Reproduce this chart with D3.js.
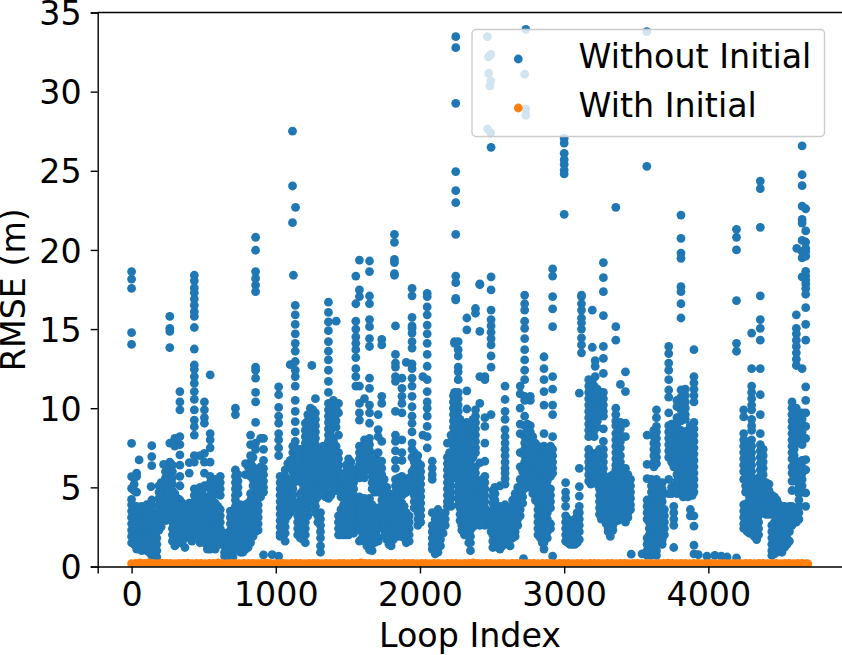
<!DOCTYPE html>
<html>
<head>
<meta charset="utf-8">
<script src="https://cdn.jsdelivr.net/npm/d3@7"></script>
<style>
  body { margin: 0; background: #fff; }
  text { font-family: "DejaVu Sans", sans-serif; fill: #000; }
</style>
</head>
<body>
<svg id="chart" width="842" height="655"></svg>
<script>
// loop index of each column of points, rmse values of that column below
const withoutLoop = [0,35,52,70,105,135,140,175,205,222,235,265,300,335,370,400,435,475,505,545,580,615,645,685,720,755,790,825,860,895,915,975,
  1020,1030,1065,1100,1116,1122,1135,1137,1170,1205,1240,1250,1275,1310,1345,1365,1400,1419,1435,1470,1505,1540,1555,1580,1615,1650,1685,1710,1735,1770,1800,1823,1830,1875,1905,1945,1960,1985,2020,2050,2085,2125,2160,2190,
  2215,2240,2248,2265,2290,2325,2350,2385,2415,2450,2468,2475,2477,2486,2491,2493,2520,2555,2590,2625,2660,2695,2718,2726,2734,2765,2800,2835,2860,2905,2920,
  3000,3010,3040,3075,3105,3120,3170,3195,3215,3245,3272,3290,3320,3358,3390,3425,3460,3465,3540,3573,3575,3605,3640,3680,3695,3725,3760,3810,3840,3875,3900,3930,3990,
  4045,4090,4130,4195,4245,4270,4300,4335,4360,4400,4440,4475,4510,4545,4580,4610,4613,4650,4675];
const withoutRmse = [
  [18.63,18.16,17.57,14.77,14.03,7.78,5.68,4.94,4.24,3.9,3.5,3.1,2.7,2.3,1.9,1.5],
  [5.9,5.7,4.7,3.8,3.4,3,2.6,2.2,1.8,1.4,1.1],
  [6.73],
  [3.8,3.4,3,2.6,2.2,1.8,1.4,1],
  [3.9,3.5,3.1,2.7,2.3,1.9,1.5,1],
  [5.05],
  [7.63,6.94,6.37,4.2,3.8,3.4,3,2.6,2.2,1.8,1.4,1,0.7],
  [3,2.6,2.2,1.8,1.4,1,0.6],
  [5.3,4.9,4.5,4.1,3.7,3.3,2.9,2.5],
  [6.45],
  [6,5.6,5.2,4.8,4.4,4,3.6,3.2,2.9],
  [15.8,15.05,14.85,13.83,7.8,6.6,6.2,5.8,5.4,5,4.6,4.2,3.8,3.4],
  [8.1,7.6,4.6,4.2,3.8,3.4,3,2.6,2.2,1.8,1.3],
  [11.05,10.4,9.9,8.2,7.7,7.05,6.4,5.7,5.1,4.2,3.8,3.4,3,2.6,2.2,1.8,1.5],
  [3.8,3.4,3,2.6,2.2,1.8,1.2],
  [6.56,5.9,4,3.6,3.2,2.8,2.4,2],
  [18.4,18.05,17.6,17.3,16.9,16.5,16.1,15.8,15.1,13.74,12.73,12.46,12,11.57,11.05,10.56,9.9,9.25,8.83,8.3,7,6.6,4.9,4.5,4.1,3.7,3.3,2.9,2.5],
  [7,5,4.6,4.2,3.8,3.4,3,2.6,2.2,1.8,1.5],
  [10.4,9.9,9.4,9.05,7.15,6.6,5.9,5.1,4.4,4,3.6,3.2,2.8,2.4,2,1.5],
  [12.1,8.4,8,7.5,6.6,5.7,5.3,4.9,4.5,4.4,4,3.6,3.2,2.8,2.4,2,1.6,1.1],
  [5.5,5.1,4.8,4,3.6,3.2,2.8,2.4,2,1.5,1.1],
  [5.7,5.3,4.9,4.5,3.6,3.2,2.8,2.4,1.7,1.4],
  [2.1,1.7,1.3,0.9,0.65],
  [3.5,3.1,2.7,2.3,1.9,1.5,1.1,0.65],
  [10,9.6,6.1,5.7,5.3,4.9,4.5,4.2,3.8,3.4,3,2.6,2.2,1.8,1.2],
  [3.9,3.5,3.1,2.7,2.3,1.9,1.5,0.9],
  [6.5,5.8,3.9,3.5,3.1,2.7,2.3,1.9,1.1],
  [8.3,7.7,7,6.6,6.2,5.7,4.6,4.2,3.8,3.4,3,2.6,2.2,1.5],
  [20.8,19.98,18.63,18.2,17.78,17.36,12.6,12.4,11.9,11,10.4,9.1,7.8,7.4,6.1,5.7,5.3,4.9,4.5,3.8,3.4,3,2.6,2.2],
  [8.1,6.3,5.9,5.5,5.1,4.7,4.4],
  [8.1,7.4,6.7,6.2,5.8,5.4,5,4.7,0.73],
  [0.75],
  [11.35,10.85,10.05,9.5,9.05,8.4,8,7.5,7,0.65],
  [5.7,5.3,4.9,4.5,4.1,3.7,3.3,2.9,2.5,2.1,1.9],
  [6.1,5.7,5.3,4.9,4.5,4.1,3.7,3.3,2.9,2.5,2.1,1.6],
  [12.75,6.7,6.4,5.2,4.8,4.4,4,3.6,3.4],
  [27.5,24.04,21.72],
  [18.4],
  [16.5,15.9,15.3,14.7,14.1,13.6,12.95,12.4,12,11.4,10.5,9.8,9.15,8.5,7.9,7.5,7.1,6.7,6.3,5.9,5.5],
  [22.69],
  [7.4,7,6.6,6.2,5.8,5.5,4.6,4.2,3.8,3.4,3,2.6,2.2,1.8],
  [9.05,8.6,8.2,7.8,7.4,7,6.6,6.2,5.8,4.8,4.4,4,3.6,3.2,2.8,2.4,2,1.5],
  [10,9.6,9.2,8.8,8.4,8,7.6,7.2,6.8,6.4,6,5.6,5.2,4.9,4.6,4.2],
  [12.7],
  [10.6,9.7,9.3,8.9,8.5,8.1,7.7,7.3,6.9,6.5,6.1,5.7,4.6,4.2,3.8,3.4],
  [7.4,7,6.6,6.2,5.8,5.4,5.1,3.4,3,2.6,2.2,1.8,1.3,0.9],
  [7.4,7,6.6,6.2,5.8,5.4,5,4.7,4.4],
  [16.7,16.05,15.45,14.9,14.2,13.6,13.05,12.4,11.7,11,10.3,9.9,9.5,9.1,8.7,8.3,7.9,7.5,7.1,6.7,6.3,5.9,5.5,5.1,4.7,4.3],
  [10.5,10.1,9.7,9.3,8.9,8.1,7.9,7.5,7.1,6.7,6.3,5.9,5.5,5.1,4.9],
  [15.5],
  [10.3,9.7,8.3,7.2,6.8,6.4,6,5.6,5.2,3.2,2.8,2.4,2],
  [5.5,5.1,4.7,4.3,3.9,3.5,3.1,2.7,2.3,2],
  [6.8,6.4,6,5.6,5.2,4.8,4.4,4,3.6,3.2,2.8,2.4,2],
  [6.1,5.7,5.3,4.9,4.5,4.1,3.7,3.3,2.9,2.5,2.1],
  [18.35,16.6,15.5,15,14.5,14.1,13.7,13.2,12.5,12,11.4],
  [19.36,17.47,17.05,11.4,10.3,9.7,9.25,7.6,7.2,6.8,6.4,6,5.6,4.4,4,3.6,3.2,2.8,2.4,1.6],
  [10.6,8,7.6,7.2,6.8,6.4,6,5.6,4.3,3.9,3.5,3.1,2.7,2.3,1.6],
  [19.3,18.63,17.09,16.6,15.6,15.15,14.4,13.9,11.9,11.25,10.2,9.7,9.05,8.1,7.7,7.3,6.9,6.5,4.3,3.9,3.5,3.1,2.7,2.3,1.9,1.5,1.05],
  [7.1,6.7,6.3,5.9,5.5,5.1,4.7,3.5,3.1,2.7,2.3,1.9,1.5],
  [9.6,8.65,8.2,7.2,6.7,6.3,5.9,5.5,5.1,4.7,3.7,3.3,2.9,2.5,1.6],
  [14.35,14,10.75,10.3,7.9,6.65,6.2,5.8,5.4,5,4.6,4.2,3.8,3.4,3,2.6],
  [5,4.6,4.2,3.8,3.4,3,2.6,2.2,1.7],
  [4.4,4,3.6,3.2,2.8,2.4,2,1.6,1.3],
  [20.98,20.48,19.4,19.2,18.5,18.4],
  [15.2,13.4,12.85,12.6,12,11.7,9.8,8.3,7.9,7.3,6.7,6.2,5.5,5.1,4.7,4.2,3.8,3.4,3,2.6,2.2,1.9],
  [11.9,11.25,10.75,10.3,9.7,8,7.2,6.7,5.7,5.3,4.9,4.5,4,3.6,3.2,2.8,2.4,1.9],
  [12.9,5.5,5.1,4.7,3.4,3,2.6,2.2,1.8,1.5],
  [17.57,17.1,15.74,15.2,15.05,14.75,14.2,13.8,12.8,12.5,11.9,11.4,10.75,10.1,9.5,9.05,8.5,7.8,7.4,6.9,6,5.7],
  [7.2,6.6,6.2,5.7,5.3,4.9,4.5,4.1,3.7],
  [7,6.6,6.2,5.8,5.4,5,4.6,4.2,3.8,3.4,3,2.6],
  [12,8.3],
  [17.26,17.05,16.4,15.9,15.25,14.7,14.1,13.4,12.65,11.8,11.05,10.4,10,9.5,8.85,8.2,7.5],
  [6.65,6.2,5.8,5.5,3.4,2.6,2.2,1.8,1.4,1.1],
  [3.6,3.2,2.8,2.4,2,1.6,1.2,0.9],
  [3,2.6,2.1],
  [7.8,6.9,6.5,6.1,5.7,5.3,4.9,4.5,4.1,3.8],
  [8.3,6.7,6.3,5.9,5.5,5.1,4.7,4.3,3.8],
  [14.2,14.1,11,10.6,10.2,9.8,9.4,9,8.6,8.2],
  [33.47,32.78,29.26,24.95,23.74,22.99,20.98,18.35,17.93,16.94,16.84],
  [14.2,13.7,13.3,12.6,12.3,11.8,11,10.6,10.2,9.8,9.4,9,8.7,7.9,7.5,7.1,6.7,6.3,5.9,5.5,5.1,4.7,4.3,3.9],
  [7.4,7,6.6,6.2,5.8,5.4,5,4.6,4.2,3.8,3.4,3,2.6,2.3],
  [15.7,14.95,11.1,9.95,9.1,8.7,8.3,7.9,7.5,7.1,6.7,6.3,5.9,5.5,5.1,4.7,4.3,3.9,3.5,3.1,2.7,2.3,2.1],
  [8.9,8.5,8.1,7.6,6.7,6.3,5.9,5.5,5.1,4.7,4.3,3.9,3.5,3.1,2.7,2.3,1.9,1.5,1],
  [16.3,16,9.9,9.5,9.1,8.7,8.3,7.9,7.5,7.2,6.3,5.9,5.5,5.1,4.7,4.3,3.9,3.5,3.1,2.7],
  [17.85,17.8,14.85,12,10.3,6.55,5.3,4.9,4.5,4.1,3.7,3.3,2.9,2.6],
  [12,11.8,9.4,8.85,7.8,6.65,5.7,5.3,4.9,4.5,4.1,3.7,3.3,2.9,2.6],
  [33.47,27.64],
  [32.2],
  [31.15],
  [30.36],
  [32.36,30.67,27.4],
  [26.48,18.3,17.47,16.2,15.6,15.2,14.8,14.4,14,13.3,12.6,9.6,3.4,3,2.6,2.2],
  [5,4.6,4.2,3.8,3.4,3,2.6,2.2,1.7,1.3],
  [5.1,3.8,3.4,3,2.6,2.2,1.8,1.4,1.1],
  [11.4,10.55,9.8,9.3,8.65,8.2,7.8,7.4,7,6.6,6.2,5.9,5.55,5.2,3.9,3.5,3.1,2.7,2.3,1.9,1.5],
  [3.7,3.3,2.9,2.5,2.1,1.7,1.3],
  [4.6,4.2,3.8,3.4,3,2.6,2.2,1.9],
  [11.4,10.9,10,9,8.4,7.2,6.3,5.5,5,4.6,4.4,4,3.6,3.2],
  [0.5],
  [31.1,17.15,16.6,16.2,15.5,15.05,14.4,13.7,13.05,12.4,11.8,10.75,10.5,9.5,8.9,8.2,7.8,7.4,7,6.6,6.2,5.8,5.5],
  [33.94,28.9,28.5],
  [10.75,10.5,8.9,8.5,8.1,7.7,7.3,6.9,6.5,6.1,5.7,5.4],
  [7.8,7.4,7,6.6,6.2,5.8,5.4,5,4.6,4.2],
  [7.4,7,6.6,6.2,5.8,5.4,5,4.6,4.2,3.8,3.4,3,2.6,2.1,1.8],
  [13.25,12.5,11.8,11.05,10.2,8.4,7.6,7.2,6.8,6.4,6,5.6,5.2,4.8,4.4,4,3.6,3.2,2.8,2.4,2,1.5,1.1],
  [7.6,7.2,6.8,6.4,6,5.7,4.9,4.5,4.1,3.7,2.7,2.4],
  [18.8,18.35,17.05,16.27,15.15,12,11.2,10.2,9.6,8.2,7.4,7,6.6,6.2,5.9,0.65],
  [27.05,26.75,26.1,25.7,25.4,25.05,24.8,22.25],
  [5.3,4.7,4.3,3.8,3.2,2.8,2.4,2,1.6],
  [2.5,2.1,1.7,1.4],
  [3,2.6,2.2,1.8,1.4],
  [10.95,6.2,5.05,4.45,3.8,3.4,3,2.6,2.2,1.7],
  [17.15,17.05,16.6,16.2,15.7,15.4,15,14.45,14,13.5],
  [11.8,11.4,11,10.6,10.2,9.8,9.4,9,8.6,8.2,7.4,7,6.6,6.2,5.8,5.4],
  [16.2,13.85,11.6,11.2,10.8,10.4,10,9.6,9.2,8.8,8.4],
  [13,12.65,12],
  [7.4,7,6.6,6.2,5.8,5.5,4.9,4.5,4.1,3.7,3.3],
  [19.2,18.25,17.36,15.85,13.9,13.15,12.2,11,10.6,10.2,9.8,9.5,8.7,7.9,7.4,7,6.6,6.2,5.8,5.4],
  [5.5,5.1,4.7,4.3,3.9,3.5,3.1,2.7],
  [5.7,5.3,4.9,4.5,4.1,3.7,3.3,2.9,2.5,2.1,1.9],
  [22.69,15.15,14.3,10,9.6,9.2,8.9,8.4,8,7.6,7.2,6.8,6.4,6.1,5.7,5.3,4.9,4.5,4.1,3.7,3.3],
  [11.5,9.1,8.7,8.3,7.9,7.5,7,6.6,6.1,5.7,5.3,4.9,4.5,4.1,3.7,3.4],
  [12.3,11.05,9.05,8.2,6.2,5.8,5.4,5,4.6,4.2,3.8,3.4,3,2.8],
  [5.5,5.1,4.7,4.3,3.9,3.6],
  [0.78],
  [0.8],
  [33.79,25.28],
  [8.3,6.45,5.55,4.2,3.8,3.4,3,1.8,1.4,1,0.7],
  [5.5,5.1,4.7,4.3,3.9,3.5,3.1,2.7,2.3,1.9,1.5,1.1,0.7],
  [9.9,9.4,8.85,8.5,8.1,7.7,7.3,6.9,6.5,5.5,5.1,4.7,4.3,3.9,3.5,3.1,2.7,2.3,1.9,1.5,1,0.7],
  [5.3,4.9,4.5,4.1,3.7,3.3,2.9,1.7,1.4],
  [3.6,3.2,2.8,2.4,2],
  [13.9,13.45,12.85,12.4,11.8,11.15,10.7,9.7,8.9,8.5,8.1,7.7,7.3,6.9,5.5,4.6],
  [9,8.6,8.2,7.8,7.4,7,6.6,6.3,5.1,4.7,3.8,3.4,3,2.6,1.2],
  [22.2,20.73,19.8,19.47,17.68,17.36,16.6,15.7,11.15,10.7,10.3,9.9,9.5,9.2,8.6,8.2,7.8,7.4,7,6.6,6.2,5.8,5.4,5,4.6],
  [11.2,10.8,10.4,10,9.6,9.3,8.2,7.8,7.4,7,6.6,6.2,5.8,5.4,5,4.5],
  [8.9,8.5,8.1,7.7,7.3,6.9,6.5,6.1,5.7,5.3,4.9,4.5,3.6,3.2],
  [13.7,12,11.6,11.2,10.8,10.4,9.1,8.7,8.3,7.9,7.5,7.1,6.7,6.3,5.9,5.5,5.1,4.7,3.2,2.55,1.35,0.8],
  [0.75],
  [0.65],
  [0.7],
  [0.65],
  [0.6],
  [21.3,20.8,20,16.8,14.1,13.6,0.55],
  [9.9,9.45,8.4,8,7.6,7.2,6.8,6.4,6,5.5,3.9,3.5,3.1,2.7,2.4],
  [7.8,7.4,7,6.6,6.2,5.8,5.4,5.1,4,3.6,3.2,2.8,2.4,2.2],
  [14.75,12.5,11.4,11,10.6,10.2,9.9,9.3,8.9,8.6,8,7.6,7.2,6.8,6.4,6,5.6,5.1,4.4,4,3.6,3.2,2.8,2.4],
  [5.5,5.1,4.4,4,3.6,3.2,2.8,2.4,2,1.7],
  [24.35,23.87,21.43,17.1,15.6,15.05,14.3,12.5,10.85,9.6,8.4,7.7,7.3,6.9,6.5,6.1,5.7,5.5,5,4.6,4.2,3.8,3.4],
  [5.3,4.9,4.5,4.1,3.7,3.3],
  [4.5,4.1,3.7,3.3,2.6,2.2,1.8,1.4,1,0.7],
  [4.2,3.8,3.4,2.8,2.4,2,1.6,1.2,0.9],
  [3.6,3.2,2.8,2.4,2,1.6,1.2,0.9],
  [3.4,3,2.6,2.2,1.8,1.4],
  [10.4,10,9.6,9.2,8.8,8.4,8,7.6,7.2,6.8,6.3,5.9,5.4,4.8,3.8,3.4,3,2.6],
  [15.9,15.05,14.7,14.3,13.9,13.5,13.1,12.7,10,9.6,9.2,8.8,8.4,8,3.6,3.2,2.8],
  [20.1],
  [26.57,24.75,24.06,22.77,21.93,21.7,20.6,19.9,19.5,18.3,12.5,9.7,9.3,8.9,8.5,8.1,7.7,6.7,6.3,5.9,5.5,5.1,4.7],
  [22.6,21.2,20.5,20.1,19.9,19.6,18.65,18.35,18.1,17.85,17.56,17.2,16.35,15.3,14.3,11.35,10.5,9.7,8.85,8.1,6.75,6.1,4.65,3.8]
];

// more columns of the same series, where the cloud of points is thick
const denseLoop = [18,88,122,158,190,250,283,318,352,385,418,455,490,525,562,598,665,703,738,772,808,842,878,
  1048,1083,1118,1152,1188,1222,1258,1292,1328,1382,1418,1452,1488,1522,1597,1632,1668,1700,1752,1785,1815,1852,1890,1925,2005,2105,2142,2175,
  2205,2232,2278,2308,2338,2368,2400,2432,2505,2538,2572,2608,2642,2678,2712,2745,2782,2818,2848,2883,
  3025,3058,3090,3185,3208,3230,3258,3305,3338,3372,3408,3442,3590,3622,3660,3745,3782,3825,3858,3888,
  4258,4285,4318,4348,4380,4420,4458,4492,4528,4562,4595,4628];
const denseRmse = [
  [5.6,5.2,4.8,3.8,3.4,3,2.6,2.2,1.8,1.4],
  [3.6,3.2,2.8,2.4,2,1.6,1.2],
  [3.7,3.3,2.9,2.5,2.1,1.7,1.3,0.9],
  [3.2,2.8,2.4,2,1.6,1.2,0.8,0.5],
  [5.1,4.7,4.3,3.9,3.5,3.1,2.7,2.3],
  [5.9,5.5,5.1,4.7,4.3,3.9,3.5,3.1],
  [6.4,6,5.6,5.2,4.8,4.4,4,3.6,3.2,2.8,2.4,2,1.6],
  [4.3,3.9,3.5,3.1,2.7,2.3,1.9,1.5],
  [4,3.6,3.2,2.8,2.4,2,1.6],
  [3.8,3.4,3,2.6,2.2],
  [4,3.6,3.2,2.8,2.4,2,1.6],
  [4.6,4.2,3.8,3.4,3,2.6,2.2,1.8],
  [4.8,4.4,4,3.6,3.2,2.8,2.4,2],
  [4.2,3.8,3.4,3,2.6,2.2,1.8,1.4,1.1],
  [5.2,4.8,4.4,3.9,3.5,3.1,2.7,2.3,1.9,1.3],
  [3.8,3.4,3,2.6,2.2,1.8,1.4],
  [1.9,1.5,1.1,0.8],
  [3.3,2.9,2.5,2.1,1.7,1.3,0.9,0.6],
  [5.8,5.4,5,4.6,3.8,3.4,3,2.6,2.2,1.8,1.4,1.1],
  [3.7,3.3,2.9,2.5,2.1,1.7,1.3,0.9],
  [6.3,4,3.6,3.2,2.8,2.4,2,1.6,1.2],
  [6.9,6.3,5.9,5.5,5.1,4.7,4.3,3.9,3.5,3.1,2.7,2.3,1.9],
  [5.9,5.5,5.1,4.7,4.3,3.9,3.5,3.1,2.7,2.3],
  [5.5,5.1,4.7,4.3,3.9,3.5,3.1,2.7,2.3],
  [6.5,5.4,5,4.6,4.2,3.8,3.4,3.2],
  [7.6,7.2,6.8,6.4,6,5.6,5.2,4.9,4.5,4.1,3.7],
  [7.4,7,6.6,6.2,5.8,5.4,4,3.6,3.2,2.8,2.4,2],
  [6,5.6,5.2,4.8,4.4,4,3.6,3.2,2.8,2.4,2,1.7],
  [9.6,9.2,8.8,8.4,8,7.6,7.2,6.8,6.4,6,5.6,5.2,4.4,4,3.6,3.2],
  [9.9,9.5,9.1,8.7,8.3,7.9,7.5,7.1,6.7,6.3,5.9,5.5,5.1,4.8,4.4,4],
  [7.2,6.8,6.4,6,5.6,5.2,4.8,4.4,3.2,2.8],
  [7.6,7.2,6.8,6.4,6,5.6,5.2,4.8],
  [10.3,9.8,9.4,9,8.6,8.2,7.7,7.3,6.9,6.5,6.1,5.7,5.3,4.9,4.5],
  [10,9.6,9.2,8.8,7.6,7.2,6.8,6.4,6,5.6,5.2,4.8],
  [5.6,5.2,4.8,4.4,3.6,3.2,2.8,2.4,2],
  [6.4,6,5.6,5.2,4.8,4.4,4,3.6,3.2,2.8,2.4,2],
  [6.6,6.2,5.8,5.4,5,4.6,4.2,3.8,3.4,3,2.6,2.2],
  [7.4,7,6.6,6.2,5.8,4.2,3.8,3.4,3,2.6,2.2,1.8],
  [7.7,7.3,6.9,6.5,6.1,4.1,3.7,3.3,2.9,2.5,2.1,1.7,1.3],
  [6.9,6.5,6.1,5.7,5.3,4.9,3.9,3.5,3.1,2.7,2.3,1.9,1.5,1],
  [6,5.6,5.2,3.5,3.1,2.7,2.3,1.9],
  [5.5,5.1,4.7,4.3,3.9,3.5,3.1,2.7,2.3,1.9],
  [4.6,4.2,3.8,3.4,3,2.6,2.2,1.8,1.4],
  [4.1,3.7,3.3,2.9,2.5,2.1,1.7],
  [5.6,5.2,4.8,4.4,3.9,3.5,3.1,2.7,2.3,1.9],
  [5.4,5,4.6,3.8,3.4,3,2.6,2.2,1.8],
  [5.6,5.2,4.8,3.2,2.8,2.4,2,1.6],
  [6.4,6,5.6,5.2,4.8,4.4,4,3.6,3.2,2.8],
  [3,2.6,2.2,1.8,1.4,1.1,0.8],
  [3.3,2.9,2.5,2.1,1.7,1.3],
  [3.4,3,2.6],
  [7.2,6.8,6.4,6,5.6,5.2,4.8,4.4,4],
  [10.8,10.4,10,9.6,9.2,8.8,8.4,8,7.6,7.2,6.8,6.4,6,5.6],
  [9.3,8.9,8.5,8.1,7.7,7.3,6.9,6.5,6.1,5.7,5.3,4.9,4.5,4.1,3.7,3.3,2.9],
  [7.2,6.8,6.4,6,5.6,5.2,4.8,4.4,4,3.6,3.2,2.8,2.4,2],
  [8.7,8.3,7.9,7.5,7.1,6.7,6.3,5.9,5.5,5.1,4.7,4.3,3.9,3.5,3.1,2.7,2.3,1.9,1.5],
  [9.3,8.9,8.5,8.1,7.7,7.3,6.9,6.1,5.7,5.3,4.9,4.5,4.1,3.7,3.3,2.9,2.5],
  [5.1,4.7,4.3,3.9,3.5,3.1,2.7],
  [5.5,5.1,4.7,4.3,3.9,3.5,3.1,2.7],
  [4.8,4.4,4,3.6,3.2,2.8,2.4,2,1.6,1.2],
  [3.6,3.2,2.8,2.4,2,1.6,1.2],
  [3.6,3.2,2.8,2.4,2,1.6,1.3],
  [3.5,3.1,2.7,2.3,1.9,1.5],
  [4.2,3.8,3.4,3,2.6,2.2,1.8],
  [5,4.6,4.2,3.8,3.4,3,2.6],
  [6,5.6,5.2,4.8,4.4,4],
  [9,8.6,8.2,7.8,7.4,7,6.6,6.2,5.8,5.4,5],
  [8.2,7.8,7.4,7,6.6,6.2,5.8,5.4,5,4.6],
  [7.6,7.2,6.8,6.4,6,5.6,5.2,4.8,4.4,4,3.6,3.2,2.8,2.4,2],
  [7.2,6.8,6.4,6,5.6,5.2,4.8,4.4,4,3.6,3.2,2.8,2.4,1.9,1.5],
  [7.4,7,6.6,6.2,5.8,5.4,5,4.6,4.2,3.8,3.4,3,2.6,2.2,1.8],
  [3,2.6,2.2,1.8,1.5],
  [2.9,2.5,2.1,1.7,1.4],
  [3.4,3,2.6,2.2,1.8,1.5],
  [7.2,6.8,6.4,6,5.6,5.2],
  [11.4,11,10.6,10.2,9.8,9.4,9,8.6,8.2,7,6.6,6.2,5.8,5.4],
  [11.2,10.8,10.4,10,9.6,9.2,8.8,7.2,6.8,6.4,6,5.6,5.2],
  [11,10.6,10.2,9.8,5.4,5,4.6,4.2,3.8,3.4,3],
  [5.6,5.2,4.8,4.4,4,3.6,3.2,2.8,2.4,2.2],
  [5.8,5.4,5,4.6,4.2,3.8,3.4,3,2.6,2.3],
  [9,8.6,8.2,7.8,7.4,7,6.6,6,5.6,5.2,4.8,4.4,4,3.6,3.2,2.9],
  [6.2,5.8,5.4,5,4.6,4.2,3.8,3.4,3],
  [5.8,5.4,5,4.6,4.2,3.8,3.4,3.1],
  [3.6,3.2,2.8,2.4,2,1.6,1.2,0.8],
  [8.6,8.2,7.8,7.4,7,6.6,6.3,5.3,4.9,4.5,4.1,3.7,3.3,2.9,2.5,2.1,1.7,1.3,0.9],
  [5.1,4.7,4.3,3.9,3.5,3.1,2.7,2.3,1.9,1.5],
  [9,8.6,8.2,7.8,7.4,7,6.6,5,4.6],
  [10.5,10.1,9.4,9,8.6,8.2,7.8,7.4,7,6.6,6.2,5.8,5.4,5,4.6],
  [11,10.6,10.2,9.8,9.4,8.4,8,7.6,7.2,6.8,6.4,6,5.6,5.2,4.8,4.4],
  [8.6,8.2,7.8,7.4,7,6.6,6.2,5.8,5.4,5,4.6,4.4],
  [8.9,8.5,8.1,7.7,7.3,6.9,6.5,6.1,5.7,5.3,4.9,4.5],
  [7.9,7.5,7.1,6.7,6.3,5.9,5.5,5.1,4.7,3.9,3.5,3.1,2.7,2.4],
  [7.6,7.2,6.8,6.4,6,5.6,5.2,4.8,4.4,4,3.6,3.2,2.8,2.4,2.1],
  [5.4,5,4.6,4.2,3.8,3.4,3,2.6,2.2,1.9],
  [5.6,5.2,4.8,4.4,4,3.6,3.2,2.8,2.4,2],
  [7.4,7,6.6,6.2,5.8,5.4,5,4.6,4.2,3.8,3.4],
  [5.2,4.8,4.4,4,3.6,3.3],
  [4.4,4,3.6,2.8,2.4,2,1.6,1.2,0.8],
  [3.9,3.5,3.1,2.7,2.3,1.9,1.5,1.1],
  [3.8,3.4,3,2.6,2.2,1.8,1.4,1.2],
  [3.8,3.4,3,2.6,2.2,1.6],
  [9.8,9.4,9,8.6,8.2,7.8,7.4,7,6.6,6.2,5.8,5.4,3.6,3.2,2.8],
  [9.4,9,8.6,8.2,7.8,6.6,6.2,5.8,5.4,5,4.6,4.2,3.8,3.4,3]
];

const withLoop = [0,30,60,90,120,150,180,210,240,270,300,330,360,390,420,450,480,510,540,570,600,630,660,690,720,750,780,810,840,870,900,930,960,990,
  1020,1050,1080,1110,1140,1170,1200,1230,1260,1290,1320,1350,1380,1410,1440,1470,1500,1530,1560,1590,1620,1650,1680,1710,1740,1770,1800,1830,1860,1890,1920,1950,1980,
  2010,2040,2070,2100,2130,2160,2190,2220,2250,2280,2310,2340,2370,2400,2430,2460,2490,2520,2550,2580,2610,2640,2670,2700,2730,2760,2790,2820,2850,2880,2910,2940,2970,
  3000,3030,3060,3090,3120,3150,3180,3210,3240,3270,3300,3330,3360,3390,3420,3450,3480,3510,3540,3570,3600,3630,3660,3690,3720,3750,3780,3810,3840,3870,3900,3930,3960,3990,
  4020,4050,4080,4110,4140,4170,4200,4230,4260,4290,4320,4350,4380,4410,4440,4470,4500,4530,4560,4590,4620,4650,4680,4690];
const withRmse = [0.18,0.2,0.22,0.19,0.23,0.2,0.18,0.21,0.19,0.2,0.18,0.2,0.19,0.21,0.18,0.2,0.19,0.18,0.2,0.19,0.22,0.2,0.18,0.2,0.19,0.18,0.2,0.19,0.2,0.18,0.19,0.21,0.19,0.18,
  0.19,0.2,0.18,0.2,0.19,0.2,0.18,0.19,0.2,0.19,0.18,0.2,0.19,0.18,0.2,0.19,0.18,0.2,0.19,0.23,0.2,0.19,0.18,0.2,0.19,0.18,0.2,0.19,0.18,0.2,0.19,0.2,0.18,
  0.19,0.2,0.18,0.2,0.19,0.18,0.2,0.19,0.2,0.18,0.19,0.2,0.22,0.19,0.18,0.2,0.19,0.18,0.2,0.19,0.18,0.2,0.19,0.2,0.18,0.19,0.2,0.18,0.19,0.2,0.19,0.18,0.2,
  0.19,0.2,0.18,0.19,0.2,0.18,0.19,0.2,0.19,0.18,0.2,0.19,0.18,0.2,0.19,0.18,0.2,0.19,0.18,0.2,0.19,0.18,0.2,0.19,0.21,0.19,0.18,0.2,0.19,0.18,0.2,0.19,0.18,0.2,
  0.19,0.18,0.2,0.19,0.18,0.2,0.19,0.18,0.2,0.19,0.18,0.2,0.19,0.18,0.2,0.19,0.18,0.2,0.19,0.18,0.2,0.19,0.18,0.17];

const xTicks = [0,1000,2000,3000,4000];
const yTicks = [0,5,10,15,20,25,30,35];
const seriesNames = ["Without Initial","With Initial"];
const seriesColors = ["#1f77b4","#ff7f0e"];

const margin = { top: 12.5, bottom: 566.5, left: 97.7, right: 843.2 };
const fontSize = 33.3;
const radius = 4.4;

const svg = d3.select("#chart");

const x = d3.scaleLinear().domain([-235,4935]).range([margin.left, margin.right]);
const y = d3.scaleLinear().domain([0,35]).range([margin.bottom, margin.top]);

svg.append("clipPath").attr("id","plot-clip")
  .append("rect")
  .attr("x", margin.left).attr("y", margin.top)
  .attr("width", margin.right - margin.left)
  .attr("height", margin.bottom - margin.top);

const plot = svg.append("g").attr("clip-path","url(#plot-clip)");

// flatten the columns to [loop, rmse] pairs
const toPairs = (loops, rmses) => d3.merge(loops.map((l,i) => rmses[i].map(r => [l,r])));
const withoutPoints = toPairs(withoutLoop, withoutRmse).concat(toPairs(denseLoop, denseRmse));
const withPoints = withLoop.map((l,i) => [l, withRmse[i]]);

plot.selectAll(".without")
  .data(withoutPoints)
  .enter().append("circle")
  .attr("class","without")
  .attr("cx", d => x(d[0]))
  .attr("cy", d => y(d[1]))
  .attr("r", radius)
  .style("fill", seriesColors[0]);

plot.selectAll(".with")
  .data(withPoints)
  .enter().append("circle")
  .attr("class","with")
  .attr("cx", d => x(d[0]))
  .attr("cy", d => y(d[1]))
  .attr("r", radius)
  .style("fill", seriesColors[1]);

// axes
const xAxis = svg.append("g")
  .attr("transform",`translate(0,${margin.bottom})`)
  .call(d3.axisBottom(x).tickValues(xTicks).tickFormat(d3.format("d")).tickSize(7).tickPadding(9));
const yAxis = svg.append("g")
  .attr("transform",`translate(${margin.left},0)`)
  .call(d3.axisLeft(y).tickValues(yTicks).tickFormat(d3.format("d")).tickSize(7).tickPadding(9));

svg.selectAll(".domain, .tick line").style("stroke","#000").style("stroke-width",1.4);
svg.selectAll(".tick text").style("font-size",fontSize+"px").style("font-family",'"DejaVu Sans"');
yAxis.selectAll(".tick text").attr("dy","0.365em");

// top spine, the right one falls outside the page
svg.append("line")
  .attr("x1",margin.left).attr("x2",margin.right)
  .attr("y1",margin.top).attr("y2",margin.top)
  .style("stroke","#000").style("stroke-width",1.4);

svg.append("text")
  .attr("x",470).attr("y",646.7)
  .attr("text-anchor","middle")
  .style("font-size",fontSize+"px")
  .text("Loop Index");

svg.append("text")
  .attr("transform","translate(25.3,289.7) rotate(-90)")
  .attr("text-anchor","middle")
  .style("font-size",fontSize+"px")
  .text("RMSE (m)");

// legend
const legend = svg.append("g");
legend.append("rect")
  .attr("x",472).attr("y",29.5)
  .attr("width",352.5).attr("height",107)
  .attr("rx",4)
  .style("fill","#fff").style("fill-opacity",0.8)
  .style("stroke","#ccc").style("stroke-width",1.4);

seriesNames.forEach((name,i) => {
  const rowY = 59 + i*49;
  legend.append("circle")
    .attr("cx",518.3).attr("cy",rowY).attr("r",radius)
    .style("fill",seriesColors[i]);
  legend.append("text")
    .attr("x",578.5).attr("y",rowY+9)
    .style("font-size",fontSize+"px")
    .text(name);
});
</script>
</body>
</html>
